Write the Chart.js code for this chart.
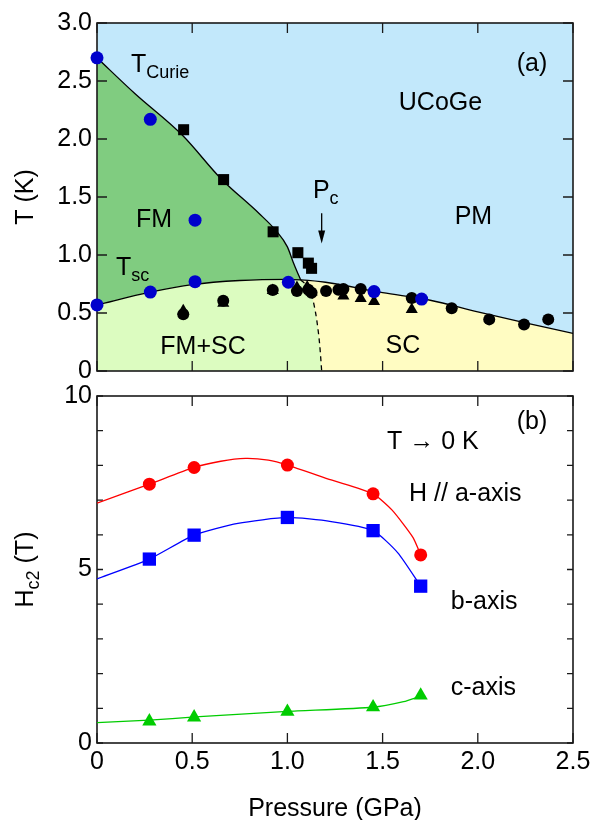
<!DOCTYPE html>
<html>
<head>
<meta charset="utf-8">
<script src="https://cdn.jsdelivr.net/npm/chart.js@4.4.0/dist/chart.umd.min.js"></script>
<style>
  body { margin: 0; background: #fff; }
  #wrap { position: relative; width: 591px; height: 820px; }
  #wrap canvas { position: absolute; left: 0; }
</style>
</head>
<body>
<div id="wrap">
  <canvas id="chartA" width="591" height="390" style="top:0"></canvas>
  <canvas id="chartB" width="591" height="440" style="top:380px"></canvas>
</div>
<script>
// ---- panel (a): phase diagram, pressure (GPa) vs T (K) ----
const curieP = [0, 0.2, 0.45, 0.65, 0.85, 0.94, 1.0, 1.03, 1.05, 1.07];
const curieT = [2.70, 2.39, 2.03, 1.66, 1.36, 1.21, 1.07, 0.94, 0.86, 0.785];

const tscP = [0, 0.28, 0.5, 0.75, 1.0, 1.07, 1.2, 1.5, 1.75, 2.0, 2.25, 2.5];
const tscT = [0.57, 0.68, 0.745, 0.78, 0.79, 0.785, 0.765, 0.675, 0.61, 0.51, 0.415, 0.325];

const dashP = [1.07, 1.10, 1.12, 1.14, 1.155, 1.17, 1.18];
const dashT = [0.785, 0.74, 0.69, 0.57, 0.43, 0.22, 0];

const blueDotP = [0, 0.28, 0.515, 0.515, 0.28, 0, 1.005, 1.455, 1.705];
const blueDotT = [2.70, 2.17, 1.30, 0.77, 0.68, 0.57, 0.765, 0.685, 0.62];

const squareP = [0.455, 0.665, 0.925, 1.055, 1.11, 1.127];
const squareT = [2.08, 1.65, 1.20, 1.02, 0.93, 0.885];

const circleP = [0.453, 0.663, 0.923, 1.05, 1.11, 1.127, 1.203, 1.268, 1.294, 1.385, 1.653, 1.863, 2.06, 2.243, 2.37];
const circleT = [0.49, 0.606, 0.698, 0.69, 0.70, 0.675, 0.69, 0.70, 0.707, 0.707, 0.63, 0.54, 0.445, 0.40, 0.445];

const triP = [0.453, 0.663, 0.923, 1.05, 1.104, 1.127, 1.294, 1.385, 1.455, 1.653];
const triT = [0.52, 0.584, 0.694, 0.72, 0.725, 0.68, 0.647, 0.625, 0.60, 0.53];

// ---- panel (b): Hc2 (T) vs pressure ----
const hP = [0.275, 0.51, 1.0, 1.45, 1.70];
const hcA = [7.46, 7.94, 8.01, 7.18, 5.42];
const hcB = [5.30, 5.99, 6.50, 6.12, 4.52];
const hcC = [0.625, 0.74, 0.90, 1.03, 1.37];

const curveAP = [0, 0.275, 0.51, 0.65, 0.78, 0.9, 1.0, 1.23, 1.45, 1.55, 1.66, 1.70];
const curveAH = [6.91, 7.46, 7.94, 8.12, 8.20, 8.15, 8.01, 7.58, 7.18, 6.71, 5.92, 5.42];
const curveBP = [0, 0.275, 0.51, 0.74, 1.0, 1.23, 1.45, 1.58, 1.70];
const curveBH = [4.73, 5.30, 5.99, 6.33, 6.50, 6.38, 6.12, 5.48, 4.52];
const curveCP = [0, 0.275, 0.516, 1.0, 1.45, 1.61, 1.70];
const curveCH = [0.59, 0.66, 0.75, 0.91, 1.03, 1.19, 1.35];

const FAMILY = "'Liberation Sans', Arial, Helvetica, sans-serif";
Chart.defaults.font.family = FAMILY;
Chart.defaults.font.size = 25;
Chart.defaults.color = '#000';

function pts(xs, ys) {
  return xs.map((x, i) => ({ x: x, y: ys[i] }));
}

// light blue background of the plot area (PM region)
const bgPlugin = {
  id: 'bg',
  beforeDraw(chart, args, opts) {
    if (!opts.color) return;
    const a = chart.chartArea;
    chart.ctx.save();
    chart.ctx.fillStyle = opts.color;
    chart.ctx.fillRect(a.left, a.top, a.right - a.left, a.bottom - a.top);
    chart.ctx.restore();
  }
};

// box frame with inward ticks on all four sides
const framePlugin = {
  id: 'frame',
  beforeDatasetsDraw(chart, args, opts) {
    const { ctx, chartArea: a, scales: { x, y } } = chart;
    ctx.save();
    ctx.strokeStyle = '#1a1a1a';
    ctx.lineWidth = 1.3;
    ctx.beginPath();
    x.ticks.forEach(t => {
      const px = x.getPixelForValue(t.value);
      ctx.moveTo(px, a.bottom); ctx.lineTo(px, a.bottom - opts.xTick);
      ctx.moveTo(px, a.top); ctx.lineTo(px, a.top + opts.xTick);
    });
    y.ticks.forEach(t => {
      const py = y.getPixelForValue(t.value);
      ctx.moveTo(a.left, py); ctx.lineTo(a.left + opts.yTick, py);
      ctx.moveTo(a.right, py); ctx.lineTo(a.right - opts.yTick, py);
    });
    ctx.stroke();
    ctx.lineWidth = 1.6;
    ctx.strokeRect(a.left, a.top, a.right - a.left, a.bottom - a.top);
    ctx.restore();
  }
};

function drawSubText(ctx, x0, y0, item) {
  ctx.font = '25px ' + FAMILY;
  const w1 = ctx.measureText(item.text).width;
  ctx.font = '18px ' + FAMILY;
  const w2 = item.sub ? ctx.measureText(item.sub).width : 0;
  ctx.font = '25px ' + FAMILY;
  const w3 = item.tail ? ctx.measureText(item.tail).width : 0;
  let x = item.align === 'center' ? x0 - (w1 + w2 + w3) / 2 : x0;
  ctx.textAlign = 'left';
  ctx.textBaseline = 'alphabetic';
  ctx.fillText(item.text, x, y0);
  if (item.sub) {
    ctx.font = '18px ' + FAMILY;
    ctx.fillText(item.sub, x + w1, y0 + 6);
  }
  if (item.tail) {
    ctx.font = '25px ' + FAMILY;
    ctx.fillText(item.tail, x + w1 + w2, y0);
  }
}

// annotations in data coordinates, axis titles, arrow
const textPlugin = {
  id: 'texts',
  afterDatasetsDraw(chart, args, opts) {
    const { ctx, chartArea: a, scales: { x, y } } = chart;
    ctx.save();
    ctx.fillStyle = '#000';
    (opts.items || []).forEach(it => {
      drawSubText(ctx, x.getPixelForValue(it.x), y.getPixelForValue(it.y), it);
    });
    if (opts.yTitle) {
      ctx.save();
      ctx.translate(opts.yTitle.px, (a.top + a.bottom) / 2);
      ctx.rotate(-Math.PI / 2);
      drawSubText(ctx, 0, 0, Object.assign({ align: 'center' }, opts.yTitle));
      ctx.restore();
    }
    if (opts.xTitle) {
      drawSubText(ctx, (a.left + a.right) / 2, opts.xTitle.py, Object.assign({ align: 'center' }, opts.xTitle));
    }
    if (opts.arrow) {
      const ax = x.getPixelForValue(opts.arrow.x);
      const y1 = y.getPixelForValue(opts.arrow.from);
      const y2 = y.getPixelForValue(opts.arrow.to);
      ctx.strokeStyle = '#000';
      ctx.lineWidth = 1.3;
      ctx.beginPath();
      ctx.moveTo(ax, y1); ctx.lineTo(ax, y2 - 10);
      ctx.stroke();
      ctx.beginPath();
      ctx.moveTo(ax, y2); ctx.lineTo(ax - 3.5, y2 - 13); ctx.lineTo(ax + 3.5, y2 - 13);
      ctx.closePath();
      ctx.fill();
    }
    ctx.restore();
  }
};

const areaLightGreen = pts(
  tscP.filter(p => p <= 1.07).concat(dashP.slice(1)),
  tscT.filter((t, i) => tscP[i] <= 1.07).concat(dashT.slice(1))
);
const areaYellow = pts(
  tscP.filter(p => p >= 1.07),
  tscT.filter((t, i) => tscP[i] >= 1.07)
);

function fillSet(data, color, order) {
  return { data: data, fill: 'origin', backgroundColor: color, borderWidth: 0,
           pointRadius: 0, cubicInterpolationMode: 'monotone', order: order };
}
function lineSet(data, color, dash, order) {
  return { data: data, fill: false, borderColor: color, borderWidth: 1.3, borderDash: dash,
           pointRadius: 0, cubicInterpolationMode: 'monotone', order: order };
}
function polySet(data, color, order) {
  return { data: data, fill: false, borderColor: color, borderWidth: 1.3,
           pointRadius: 0, tension: 0.2, order: order };
}
function markSet(data, style, radius, color, order) {
  return { data: data, showLine: false, pointStyle: style, pointRadius: radius,
           pointBackgroundColor: color, pointBorderWidth: 0, clip: false, order: order };
}

// keep the plot area fixed: no extra room for overflowing end labels
function fixX(height) {
  return s => { s.height = height; s.paddingLeft = 0; s.paddingRight = 0; };
}
function fixY(s) {
  s.width = 97; s.paddingTop = 0; s.paddingBottom = 0;
}

const chartA = new Chart('chartA', {
  type: 'line',
  data: {
    datasets: [
      fillSet(pts(curieP, curieT), '#80cc80', 10),
      fillSet(areaYellow, '#fffcc2', 9),
      fillSet(areaLightGreen, '#dcfcc0', 8),
      lineSet(pts(curieP, curieT), '#000', [], 5),
      lineSet(pts(tscP, tscT), '#000', [], 5),
      lineSet(pts(dashP, dashT), '#000', [5, 4], 5),
      markSet(pts(triP, triT), 'triangle', 7, '#000', 3),
      markSet(pts(circleP, circleT), 'circle', 6, '#000', 2),
      markSet(pts(squareP, squareT), 'rect', 7.8, '#000', 2),
      markSet(pts(blueDotP, blueDotT), 'circle', 6.5, '#0000cc', 1)
    ]
  },
  options: {
    responsive: false,
    animation: false,
    layout: { padding: { top: 23, right: 18, left: 0, bottom: 0 } },
    plugins: {
      legend: { display: false },
      tooltip: { enabled: false },
      filler: { drawTime: 'beforeDatasetsDraw' },
      bg: { color: '#c2e8fb' },
      frame: { xTick: 10, yTick: 10 },
      texts: {
        items: [
          { x: 0.178, y: 2.578, text: 'T', sub: 'Curie' },
          { x: 2.285, y: 2.586, text: '(a)', align: 'center' },
          { x: 1.804, y: 2.25, text: 'UCoGe', align: 'center' },
          { x: 0.299, y: 1.24, text: 'FM', align: 'center' },
          { x: 1.134, y: 1.491, text: 'P', sub: 'c' },
          { x: 1.977, y: 1.267, text: 'PM', align: 'center' },
          { x: 0.10, y: 0.828, text: 'T', sub: 'sc' },
          { x: 0.557, y: 0.147, text: 'FM+SC', align: 'center' },
          { x: 1.607, y: 0.158, text: 'SC', align: 'center' }
        ],
        yTitle: { px: 33, text: 'T (K)' },
        arrow: { x: 1.18, from: 1.36, to: 1.10 }
      }
    },
    scales: {
      x: {
        type: 'linear', min: 0, max: 2.5,
        ticks: { stepSize: 0.5, display: false },
        grid: { display: false, drawTicks: false },
        border: { display: false },
        afterFit: fixX(19)
      },
      y: {
        min: 0, max: 3,
        ticks: { stepSize: 0.5, padding: 5, callback: v => v === 0 ? '0' : v.toFixed(1) },
        grid: { display: false, drawTicks: false },
        border: { display: false },
        afterFit: fixY
      }
    }
  },
  plugins: [bgPlugin, framePlugin, textPlugin]
});

const chartB = new Chart('chartB', {
  type: 'line',
  data: {
    datasets: [
      polySet(pts(curveAP, curveAH), '#ff0000', 5),
      polySet(pts(curveBP, curveBH), '#0000ff', 5),
      polySet(pts(curveCP, curveCH), '#00cc00', 5),
      markSet(pts(hP, hcA), 'circle', 6.5, '#ff0000', 1),
      markSet(pts(hP, hcB), 'rect', 9.4, '#0000ff', 1),
      markSet(pts(hP, hcC), 'triangle', 8.2, '#00cc00', 1)
    ]
  },
  options: {
    responsive: false,
    animation: false,
    layout: { padding: { top: 16, right: 18, left: 0, bottom: 0 } },
    plugins: {
      legend: { display: false },
      tooltip: { enabled: false },
      frame: { xTick: 10, yTick: 6 },
      texts: {
        items: [
          { x: 2.285, y: 9.05, text: '(b)', align: 'center' },
          { x: 1.523, y: 8.47, text: 'T \u2192 0 K' },
          { x: 1.639, y: 6.97, text: 'H // a-axis' },
          { x: 1.858, y: 3.86, text: 'b-axis' },
          { x: 1.858, y: 1.38, text: 'c-axis' }
        ],
        yTitle: { px: 33, text: 'H', sub: 'c2', tail: ' (T)' },
        xTitle: { py: 436, text: 'Pressure (GPa)' }
      }
    },
    scales: {
      x: {
        type: 'linear', min: 0, max: 2.5,
        ticks: { stepSize: 0.5, padding: 4, callback: v => v === 0 ? '0' : v.toFixed(1) },
        grid: { display: false, drawTicks: false },
        border: { display: false },
        afterFit: fixX(77)
      },
      y: {
        min: 0, max: 10,
        ticks: { stepSize: 1, padding: 5, callback: v => v % 5 === 0 ? String(v) : '' },
        grid: { display: false, drawTicks: false },
        border: { display: false },
        afterFit: fixY
      }
    }
  },
  plugins: [framePlugin, textPlugin]
});
</script>
</body>
</html>
